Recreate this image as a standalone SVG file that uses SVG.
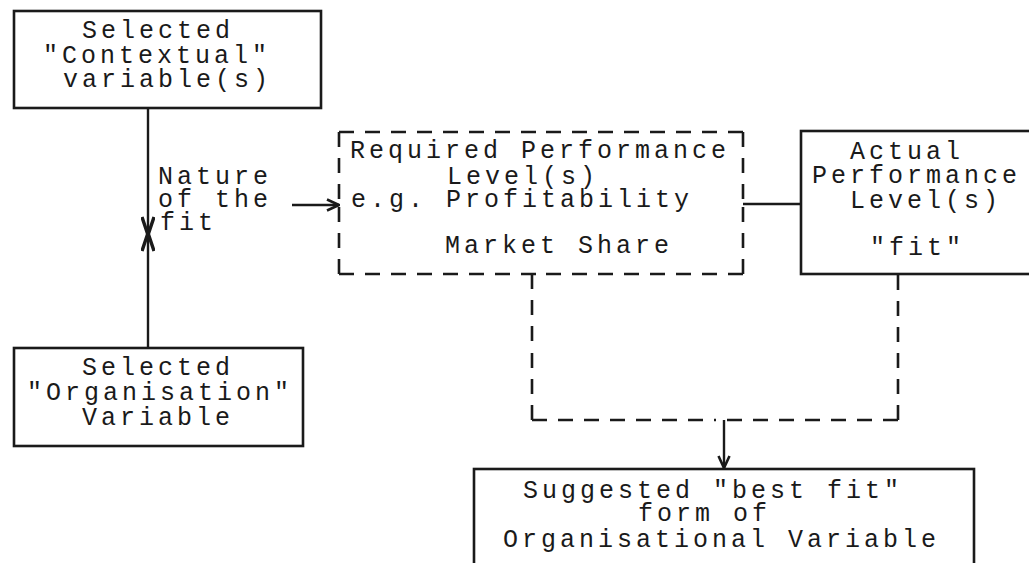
<svg xmlns="http://www.w3.org/2000/svg" width="1029" height="563" viewBox="0 0 1029 563">
<defs>
<style>
.box{fill:none;stroke:#1a1a1a;stroke-width:2.6}
.dash{fill:none;stroke:#1a1a1a;stroke-width:2.6;stroke-dasharray:15 11}
.ln{fill:none;stroke:#1a1a1a;stroke-width:2.4}
text{font-family:"Liberation Mono","DejaVu Sans Mono",monospace;font-size:25px;letter-spacing:4px;fill:#1a1a1a}
</style>
<marker id="ah" viewBox="0 0 14 14" refX="13" refY="7" markerWidth="14" markerHeight="14" markerUnits="userSpaceOnUse" orient="auto">
<path d="M1,1.5 L13,7 L1,12.5" fill="none" stroke="#1a1a1a" stroke-width="2.6"/>
</marker>
<marker id="ah2" viewBox="0 0 20 14" refX="19" refY="7" markerWidth="20" markerHeight="14" markerUnits="userSpaceOnUse" orient="auto">
<path d="M1,1 L19,7 L1,13" fill="none" stroke="#1a1a1a" stroke-width="3.4"/>
</marker>
</defs>

<g id="connectors">
<line class="ln" x1="148" y1="108" x2="148" y2="235" marker-end="url(#ah2)"/>
<line class="ln" x1="148" y1="348" x2="148" y2="233" marker-end="url(#ah2)"/>
<line class="ln" x1="292" y1="205" x2="339" y2="205" marker-end="url(#ah)"/>
<line class="ln" x1="743" y1="204" x2="801" y2="204"/>
<path class="dash" d="M532,274 L532,347 M532,420 L532,347 M532,420 L715,420 M898,420 L715,420 M898,420 L898,347 M898,275 L898,347"/>
<line class="ln" x1="724" y1="420" x2="724" y2="468" marker-end="url(#ah)"/>
</g>

<g id="contextual">
<rect class="box" x="14" y="11" width="307" height="97"/>
<text x="82" y="38">Selected</text>
<text x="43" y="63">"Contextual"</text>
<text x="63" y="87">variable(s)</text>
</g>

<g id="organisation">
<rect class="box" x="14" y="348" width="289" height="98"/>
<text x="82" y="375">Selected</text>
<text x="27" y="400">"Organisation"</text>
<text x="82" y="425">Variable</text>
</g>

<g id="nature-label">
<text x="158" y="184">Nature</text>
<text x="158" y="207">of the</text>
<text x="160" y="230">fit</text>
</g>

<g id="required">
<path class="dash" d="M339,132 L541,132 M743,132 L541,132 M743,132 L743,203 M743,274 L743,203 M743,274 L541,274 M339,274 L541,274 M339,274 L339,203 M339,132 L339,203"/>
<text x="350" y="158">Required Performance</text>
<text x="447" y="184">Level(s)</text>
<text x="351" y="207">e.g. Profitability</text>
<text x="445" y="253">Market Share</text>
</g>

<g id="actual">
<rect class="box" x="801" y="131" width="240" height="143"/>
<text x="850" y="159">Actual</text>
<text x="812" y="183">Performance</text>
<text x="850" y="208">Level(s)</text>
<text x="870" y="255">"fit"</text>
</g>

<g id="suggested">
<rect class="box" x="474" y="469" width="500" height="110"/>
<text x="523" y="498">Suggested "best fit"</text>
<text x="638" y="521">form of</text>
<text x="503" y="547">Organisational Variable</text>
</g>
</svg>
